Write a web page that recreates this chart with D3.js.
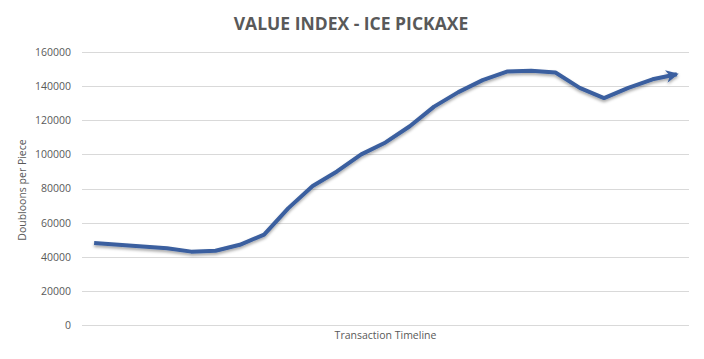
<!DOCTYPE html>
<html>
<head>
<meta charset="utf-8">
<script src="https://cdn.jsdelivr.net/npm/d3@7"></script>
<style>
  body { margin: 0; background: #fff; }
  text { font-family: "Open Sans", "DejaVu Sans", sans-serif; }
</style>
</head>
<body>
<div id="chart"></div>
<script>
// chart values
var chartTitle = "VALUE INDEX - ICE PICKAXE";
var xTitle = "Transaction Timeline";
var yTitle = "Doubloons per Piece";
var periods = d3.range(1, 26);
var values = [48000, 47000, 46000, 45000, 43000, 43500, 47000, 53000, 68500, 81500,
              90000, 100000, 107000, 116500, 128000, 136500, 143500, 148500, 149000, 148000,
              139000, 133000, 139000, 144000, 147000];
var yTicks = [0, 20000, 40000, 60000, 80000, 100000, 120000, 140000, 160000];

var width = 704, height = 359;
var margin = { top: 52, right: 15, bottom: 34, left: 82 };

var svg = d3.select("#chart").append("svg")
	.attr("width", width)
	.attr("height", height);

var defs = svg.append("defs");
var shadow = defs.append("filter").attr("id", "shadow")
	.attr("x", "-5%").attr("y", "-5%").attr("width", "110%").attr("height", "120%");
shadow.append("feDropShadow")
	.attr("dx", 0).attr("dy", 2).attr("stdDeviation", 1.5)
	.attr("flood-color", "#000").attr("flood-opacity", 0.35);

defs.append("marker")
	.attr("id", "arrow")
	.attr("viewBox", "0 0 10 10")
	.attr("refX", 8.5).attr("refY", 5)
	.attr("markerWidth", 3.2).attr("markerHeight", 3.2)
	.attr("orient", "auto")
	.append("path")
	.attr("d", "M0,0 L10,5 L0,10 L3,5 Z")
	.attr("fill", "#3A5F9F");

var x = d3.scaleBand()
	.domain(periods)
	.range([margin.left, width - margin.right]);

var y = d3.scaleLinear()
	.domain([0, 160000])
	.range([height - margin.bottom, margin.top]);

// gridlines
svg.append("g")
	.selectAll("line")
	.data(yTicks)
	.enter()
	.append("line")
	.attr("x1", margin.left)
	.attr("x2", width - margin.right)
	.attr("y1", function(d) { return Math.round(y(d)) + 0.5; })
	.attr("y2", function(d) { return Math.round(y(d)) + 0.5; })
	.attr("stroke", "#d9d9d9")
	.attr("stroke-width", 1);

// y axis labels
var yAxis = d3.axisLeft(y).tickValues(yTicks).tickSize(0).tickPadding(11)
	.tickFormat(d3.format("d"));
var yg = svg.append("g")
	.attr("transform", "translate(" + margin.left + ",0)")
	.call(yAxis);
yg.select(".domain").remove();
yg.selectAll("text")
	.attr("fill", "#595959")
	.style("font-size", "10.5px");

// line
var line = d3.line()
	.x(function(d, i) { return x(periods[i]) + x.bandwidth() / 2; })
	.y(function(d) { return y(d); });

svg.append("path")
	.datum(values)
	.attr("d", line)
	.attr("fill", "none")
	.attr("stroke", "#3A5F9F")
	.attr("stroke-width", 4)
	.attr("stroke-linejoin", "round")
	.attr("marker-end", "url(#arrow)")
	.attr("filter", "url(#shadow)");

// titles
svg.append("text")
	.attr("x", 351)
	.attr("y", 30)
	.attr("text-anchor", "middle")
	.attr("fill", "#595959")
	.style("font-size", "17.5px")
	.style("font-weight", "bold")
	.text(chartTitle);

svg.append("text")
	.attr("x", (margin.left + width - margin.right) / 2)
	.attr("y", 339)
	.attr("text-anchor", "middle")
	.attr("fill", "#595959")
	.style("font-size", "10.5px")
	.text(xTitle);

svg.append("text")
	.attr("transform", "translate(26," + 190 + ") rotate(-90)")
	.attr("text-anchor", "middle")
	.attr("fill", "#595959")
	.style("font-size", "10.5px")
	.text(yTitle);
</script>
</body>
</html>
